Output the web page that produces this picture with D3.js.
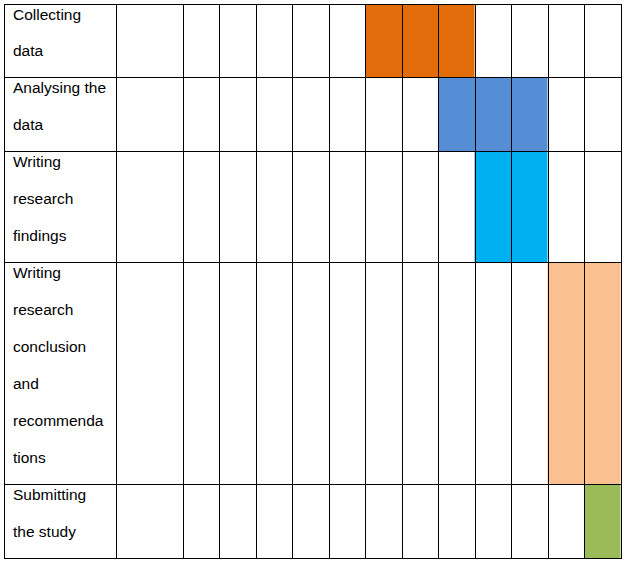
<!DOCTYPE html>
<html><head><meta charset="utf-8">
<script src="https://cdn.jsdelivr.net/npm/d3@7"></script>
<style>html,body{margin:0;padding:0;background:#fff;}</style>
</head><body>
<svg id="chart" width="625" height="561"></svg>
<script>
// Data
const taskLabels = [
  ["Collecting", "data"],
  ["Analysing the", "data"],
  ["Writing", "research", "findings"],
  ["Writing", "research", "conclusion", "and", "recommenda", "tions"],
  ["Submitting", "the study"]
];
const taskStart = [5, 7, 8, 10, 11];     // index of first period column
const taskDuration = [3, 3, 2, 2, 1];    // number of period columns
const taskColors = ["#E36C0A", "#558ED5", "#00B0F0", "#FAC090", "#9BBB59"];
const periods = d3.range(12);            // 12 time columns

const svg = d3.select("#chart");
const gLeft = 4, labelRight = 116, gapRight = 182.5, gRight = 620.5;
const gTop = 3.5, gBottom = 558;

const nLines = taskLabels.map(d => d.length);
const cum = [0];
nLines.forEach(n => cum.push(cum[cum.length - 1] + n));
const y = d3.scaleLinear().domain([0, cum[cum.length - 1]]).range([gTop, gBottom]);
const x = d3.scaleLinear().domain([0, periods.length]).range([gapRight, gRight]);

// Bars
svg.append("g").selectAll("rect")
  .data(taskLabels.map((l, i) => i))
  .join("rect")
  .attr("x", i => x(taskStart[i]))
  .attr("width", i => x(taskStart[i] + taskDuration[i]) - x(taskStart[i]))
  .attr("y", i => Math.round(y(cum[i])))
  .attr("height", i => Math.round(y(cum[i + 1])) - Math.round(y(cum[i])))
  .attr("fill", i => taskColors[i]);

// Grid
const grid = svg.append("g").attr("stroke", "#000").attr("stroke-width", 1).attr("shape-rendering", "crispEdges");
const vx = [gLeft, labelRight].concat(d3.range(periods.length + 1).map(p => x(p)));
grid.selectAll("line.v").data(vx).join("line").attr("class", "v")
  .attr("x1", d => Math.round(d) + 0.5).attr("x2", d => Math.round(d) + 0.5)
  .attr("y1", gTop).attr("y2", gBottom + 0.5);
grid.selectAll("line.h").data(cum).join("line").attr("class", "h")
  .attr("y1", d => Math.round(y(d)) + 0.5).attr("y2", d => Math.round(y(d)) + 0.5)
  .attr("x1", gLeft).attr("x2", gRight + 1);

// Labels
const lineH = y(1) - y(0);
const tg = svg.append("g").attr("font-family", "Liberation Sans, Arial, sans-serif")
  .attr("font-size", "15.5px").attr("fill", "#000");
taskLabels.forEach((lines, i) => {
  lines.forEach((t, j) => {
    tg.append("text")
      .attr("x", 13)
      .attr("y", y(cum[i]) + 16 + j * lineH)
      .text(t);
  });
});
</script>
</body></html>
